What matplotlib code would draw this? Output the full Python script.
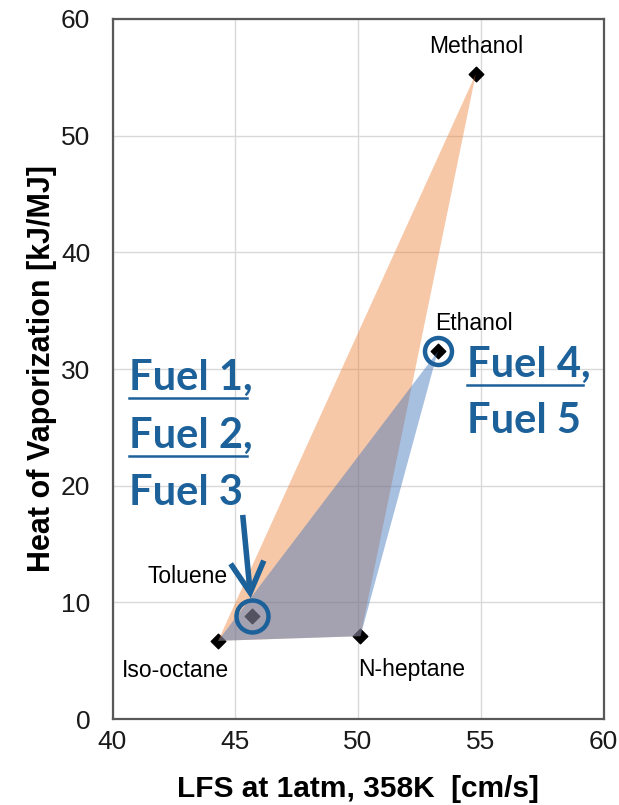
import matplotlib
matplotlib.use("Agg")
import matplotlib.pyplot as plt
from matplotlib.patches import Polygon

# Fuel properties: laminar flame speed vs heat of vaporization
fuels = ["Methanol", "Ethanol", "Toluene", "Iso-octane", "N-heptane"]
lfs = [54.8, 53.25, 45.7, 44.3, 50.1]
hov = [55.3, 31.5, 8.8, 6.7, 7.1]

# Blend envelopes
orange_region = ["Iso-octane", "Methanol", "N-heptane"]
blue_region = ["Iso-octane", "Ethanol", "N-heptane"]

x_ticks = [40, 45, 50, 55, 60]
y_ticks = [0, 10, 20, 30, 40, 50, 60]

plt.rcParams["font.family"] = ["Liberation Sans", "DejaVu Sans"]

W, H = 619, 805
fig = plt.figure(figsize=(W / 100, H / 100), dpi=100)
ax = fig.add_axes([112.5 / W, 1 - 719 / H, 491 / W, 700 / H])

ax.set_xlim(40, 60)
ax.set_ylim(0, 60)
ax.set_xticks(x_ticks)
ax.set_yticks(y_ticks)
ax.grid(True, color="#d9d9d9", linewidth=1.0)
ax.set_axisbelow(True)
for s in ax.spines.values():
    s.set_color("#595959")
    s.set_linewidth(1.6)
ax.tick_params(length=0, labelsize=19, colors="#1a1a1a")
ax.tick_params(axis="y", pad=16)
ax.tick_params(axis="x", pad=8)

# markers
ax.scatter(lfs, hov, marker="D", s=55, color="black", zorder=3)

idx = {f: i for i, f in enumerate(fuels)}


def region(names):
    return [(lfs[idx[n]], hov[idx[n]]) for n in names]


ax.add_patch(Polygon(region(orange_region), closed=True, facecolor="#ED7D31",
                     alpha=0.42, edgecolor="none", zorder=4))
ax.add_patch(Polygon(region(blue_region), closed=True, facecolor="#4276BC",
                     alpha=0.46, edgecolor="none", zorder=5))

# point labels
lab_kw = dict(fontsize=16.5, color="black", zorder=6, textcoords="offset points",
              va="center")
ax.annotate("Methanol", (lfs[0], hov[0]), xytext=(0, 20), ha="center", **lab_kw)
ax.annotate("Ethanol", (lfs[1], hov[1]), xytext=(-2, 20), ha="left", **lab_kw)
ax.annotate("Toluene", (lfs[2], hov[2]), xytext=(-18, 29), ha="right", **lab_kw)
ax.annotate("Iso-octane", (lfs[3], hov[3]), xytext=(-31, -21), ha="center", **lab_kw)
ax.annotate("N-heptane", (lfs[4], hov[4]), xytext=(-2, -24), ha="left", **lab_kw)

# highlight circles and callout arrow
hl = "#1c6199"
for name, r in [("Toluene", 16), ("Ethanol", 13.5)]:
    cx, cy = lfs[idx[name]], hov[idx[name]]
    ax.plot(cx, cy, marker="o", markersize=2 * r * 72 / 100, markerfacecolor="none",
            markeredgecolor=hl, markeredgewidth=3.2, zorder=7)

tx, ty = lfs[idx["Toluene"]], hov[idx["Toluene"]]
ax.annotate("", xy=(tx, ty), xytext=(-7, 73), textcoords="offset points",
            arrowprops=dict(arrowstyle="->,head_length=1.1,head_width=0.6", color=hl,
                            lw=4, shrinkA=0, shrinkB=13, mutation_scale=20,
                            joinstyle="miter", capstyle="butt"),
            zorder=7)


def fuel_text(px, py, s):
    # px, py in figure pixels measured from the top-left corner
    fig.text(px / W, 1 - py / H, s, ha="left", va="baseline",
             fontsize=30, fontweight="bold", color=hl, family=["Lato", "DejaVu Sans"])


fuel_text(129, 390, "Fuel 1,")
fuel_text(129, 448, "Fuel 2,")
fuel_text(129, 505, "Fuel 3")
fuel_text(467, 377, "Fuel 4,")
fuel_text(467, 433, "Fuel 5")

for x0, x1, yy in [(129, 247, 398), (129, 247, 456), (467, 583, 385)]:
    fig.add_artist(plt.Line2D([x0 / W, x1 / W], [1 - yy / H, 1 - yy / H],
                              color=hl, linewidth=1.8))

ax.set_xlabel("LFS at 1atm, 358K  [cm/s]", fontsize=21.5, fontweight="bold", labelpad=15)
ax.set_ylabel("Heat of Vaporization [kJ/MJ]", fontsize=22, fontweight="bold", labelpad=2.5)

fig.savefig("out.png", dpi=100)
